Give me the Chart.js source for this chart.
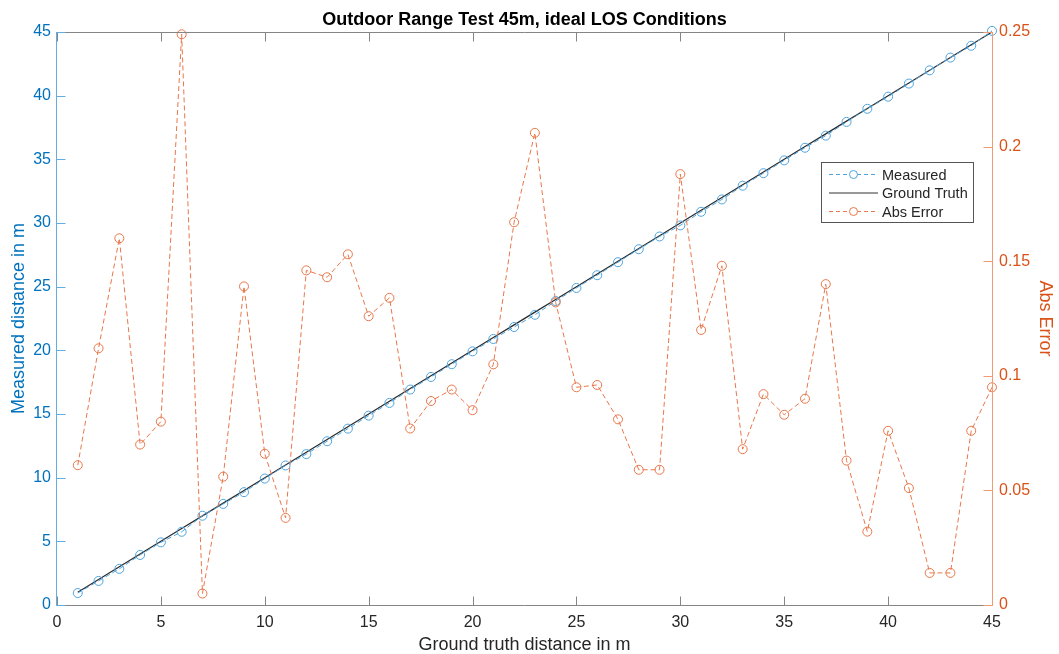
<!DOCTYPE html>
<html><head><meta charset="utf-8">
<script src="https://cdn.jsdelivr.net/npm/chart.js@4/dist/chart.umd.min.js"></script>
<style>html,body{margin:0;padding:0;background:#fff}#wrap{width:1059px;height:654px}</style>
</head><body><div id="wrap"><canvas id="c" width="1059" height="654"></canvas></div>
<script>
const groundTruth = [1,2,3,4,5,6,7,8,9,10,11,12,13,14,15,16,17,18,19,20,21,22,23,24,25,26,27,28,29,30,31,32,33,34,35,36,37,38,39,40,41,42,43,44,45];
const measured = [0.94,1.89,2.84,3.93,4.92,5.75,7.01,7.94,8.86,9.93,10.96,11.85,12.86,13.85,14.87,15.87,16.92,17.91,18.91,19.92,20.89,21.83,22.79,23.87,24.90,25.90,26.92,27.94,28.94,29.81,30.88,31.85,32.93,33.91,34.92,35.91,36.86,37.94,38.97,39.92,40.95,41.99,42.99,43.92,45.09];
const absError = [0.061,0.112,0.160,0.070,0.080,0.249,0.005,0.056,0.139,0.066,0.038,0.146,0.143,0.153,0.126,0.134,0.077,0.089,0.094,0.085,0.105,0.167,0.206,0.132,0.095,0.096,0.081,0.059,0.059,0.188,0.120,0.148,0.068,0.092,0.083,0.090,0.140,0.063,0.032,0.076,0.051,0.014,0.014,0.076,0.095];
const xTicks = [0,5,10,15,20,25,30,35,40,45];
const leftTicks = [0,5,10,15,20,25,30,35,40,45];
const rightTicks = [0,0.05,0.1,0.15,0.2,0.25];
const legendLabels = ['Measured','Ground Truth','Abs Error'];

const BLUE = '#0072BD', BLUE_LINE = '#4DA3DE', BLUE_AXIS = '#62ADE2', ORANGE = '#D95319', ORANGE_LINE = '#E8774A', ORANGE_AXIS = '#F09A76', GRAY = '#262626', AXIS_GRAY = '#858585';
const FONT = '"Liberation Sans", Arial, sans-serif';

const pts = (ys) => groundTruth.map((x, i) => ({x: x, y: ys[i]}));

const decor = {
  id: 'decor',
  afterDraw(chart) {
    const ctx = chart.ctx, a = chart.chartArea, s = chart.scales;
    const L = a.left - 0.5, R = a.right + 0.5, T = a.top + 0.5, B = a.bottom + 0.5;
    ctx.save();
    ctx.lineWidth = 1;
    ctx.strokeStyle = AXIS_GRAY;
    ctx.beginPath(); ctx.moveTo(L, T); ctx.lineTo(R, T); ctx.stroke();
    ctx.beginPath(); ctx.moveTo(L, B); ctx.lineTo(R, B); ctx.stroke();
    xTicks.forEach(v => {
      const px = Math.round(s.x.getPixelForValue(v)) + 0.5;
      ctx.beginPath(); ctx.moveTo(px, B); ctx.lineTo(px, B - 9); ctx.stroke();
      ctx.beginPath(); ctx.moveTo(px, T); ctx.lineTo(px, T + 9); ctx.stroke();
    });
    ctx.strokeStyle = BLUE_AXIS;
    ctx.beginPath(); ctx.moveTo(L, T - 0.5); ctx.lineTo(L, B + 0.5); ctx.stroke();
    leftTicks.forEach(v => {
      const py = Math.round(s.y.getPixelForValue(v)) + 0.5;
      ctx.beginPath(); ctx.moveTo(L, py); ctx.lineTo(L + 9, py); ctx.stroke();
    });
    ctx.strokeStyle = ORANGE_AXIS;
    ctx.beginPath(); ctx.moveTo(R, T - 0.5); ctx.lineTo(R, B + 0.5); ctx.stroke();
    rightTicks.forEach(v => {
      const py = Math.round(s.y1.getPixelForValue(v)) + 0.5;
      ctx.beginPath(); ctx.moveTo(R, py); ctx.lineTo(R - 9, py); ctx.stroke();
    });
    const bx = 821.5, by = 162.5, bw = 152, bh = 60;
    ctx.fillStyle = '#fff'; ctx.fillRect(bx, by, bw, bh);
    ctx.strokeStyle = '#555'; ctx.strokeRect(bx, by, bw, bh);
    const rows = [174.5, 193, 211.5];
    const styles = [
      {c: BLUE_LINE, dash: [4, 3], marker: true},
      {c: '#333', dash: [], marker: false},
      {c: ORANGE_LINE, dash: [4, 3], marker: true}
    ];
    ctx.font = '14.5px ' + FONT; ctx.textBaseline = 'middle'; ctx.textAlign = 'left';
    rows.forEach((y, i) => {
      const st = styles[i];
      ctx.strokeStyle = st.c; ctx.setLineDash(st.dash);
      ctx.beginPath(); ctx.moveTo(829, y); ctx.lineTo(878, y); ctx.stroke();
      ctx.setLineDash([]);
      if (st.marker) {
        ctx.fillStyle = '#fff';
        ctx.beginPath(); ctx.arc(853.5, y, 4, 0, Math.PI * 2); ctx.fill(); ctx.stroke();
      }
      ctx.fillStyle = GRAY;
      ctx.fillText(legendLabels[i], 882, y + 1);
    });
    ctx.restore();
  }
};

new Chart(document.getElementById('c'), {
  type: 'scatter',
  data: {
    datasets: [
      { label: 'Abs Error', data: pts(absError), yAxisID: 'y1', showLine: true,
        borderColor: ORANGE_LINE, borderWidth: 1, borderDash: [5, 3],
        pointRadius: 4.5, pointBorderColor: ORANGE_LINE, pointBackgroundColor: 'rgba(0,0,0,0)', pointBorderWidth: 1 },
      { label: 'Measured', data: pts(measured), yAxisID: 'y', showLine: true,
        borderColor: BLUE_LINE, borderWidth: 1, borderDash: [5, 3],
        pointRadius: 4.5, pointBorderColor: BLUE_LINE, pointBackgroundColor: 'rgba(0,0,0,0)', pointBorderWidth: 1 },
      { label: 'Ground Truth', data: pts(groundTruth), yAxisID: 'y', showLine: true,
        borderColor: '#2a2a2a', borderWidth: 1.2, pointRadius: 0 }
    ]
  },
  options: {
    responsive: false, animation: false,
    layout: { padding: 0 },
    clip: false,
    plugins: {
      legend: { display: false }, tooltip: { enabled: false },
      title: { display: true, text: 'Outdoor Range Test 45m, ideal LOS Conditions', fullSize: false,
        color: '#000', font: { family: FONT, size: 18, weight: 'bold' }, padding: { top: 9, bottom: 1.4 } }
    },
    scales: {
      x: { type: 'linear', position: 'bottom', min: 0, max: 45,
        afterBuildTicks: s => { s.ticks = xTicks.map(v => ({value: v})); },
        afterFit: s => { s.height = 49; },
        ticks: { color: GRAY, font: { family: FONT, size: 16 }, padding: 8, maxRotation: 0 },
        grid: { display: false, drawTicks: false },
        border: { display: false },
        title: { display: true, text: 'Ground truth distance in m', color: GRAY, font: { family: FONT, size: 18, lineHeight: 1.0 }, padding: { top: 0, bottom: 0 } } },
      y: { position: 'left', min: 0, max: 45,
        afterBuildTicks: s => { s.ticks = leftTicks.map(v => ({value: v})); },
        afterFit: s => { s.width = 57; },
        ticks: { color: BLUE, font: { family: FONT, size: 16 }, padding: 6 },
        grid: { display: false, drawTicks: false },
        border: { display: false },
        title: { display: true, text: 'Measured distance in m', color: BLUE, font: { family: FONT, size: 18 }, padding: { top: 8, bottom: 0 } } },
      y1: { position: 'right', min: 0, max: 0.25,
        afterBuildTicks: s => { s.ticks = rightTicks.map(v => ({value: v})); },
        afterFit: s => { s.width = 67; },
        ticks: { color: ORANGE, font: { family: FONT, size: 16 }, padding: 7, callback: v => String(v) },
        grid: { display: false, drawTicks: false },
        border: { display: false },
        title: { display: true, text: 'Abs Error', color: ORANGE, font: { family: FONT, size: 18 }, padding: { top: 3, bottom: 0 } } }
    }
  },
  plugins: [decor]
});
</script>
</body></html>
